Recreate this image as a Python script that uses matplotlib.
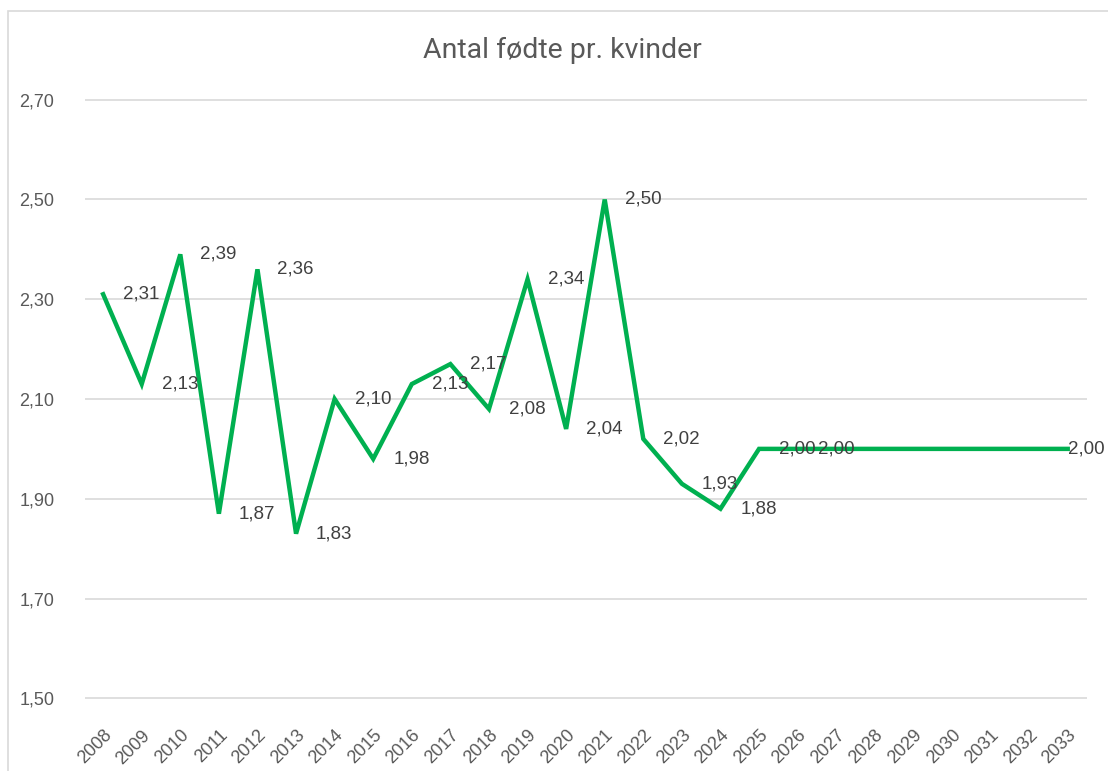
import matplotlib
matplotlib.use("Agg")
import matplotlib.pyplot as plt
from matplotlib.patches import Rectangle

years = [str(y) for y in range(2008, 2034)]
values = [2.31, 2.13, 2.39, 1.87, 2.36, 1.83, 2.10, 1.98, 2.13, 2.17, 2.08, 2.34, 2.04,
          2.50, 2.02, 1.93, 1.88, 2.00, 2.00, 2.00, 2.00, 2.00, 2.00, 2.00, 2.00, 2.00]
labelled_years = [str(y) for y in range(2008, 2027)] + ["2033"]
y_ticks = [1.50, 1.70, 1.90, 2.10, 2.30, 2.50, 2.70]
title = "Antal fødte pr. kvinder"

W, H = 1108, 771
fig = plt.figure(figsize=(W / 100, H / 100), dpi=100)
fig.patch.set_facecolor("white")
fig.patches.append(Rectangle((8 / W, -0.05), 1.2, 1 - 11 / H + 0.05, transform=fig.transFigure,
                             fill=False, edgecolor="#D9D9D9", lw=1.2))

ax = fig.add_axes([85 / W, 1 - 699 / H, (1087 - 85) / W, (699 - 99) / H])
x = list(range(len(years)))
ax.plot(x, values, color="#00B050", lw=3.2, solid_joinstyle="miter", zorder=3)

ax.set_ylim(1.4985, 2.7015)
ax.set_xlim(-0.47, len(years) - 0.5)
ax.set_yticks(y_ticks)
ax.set_yticklabels([f"{v:.2f}".replace(".", ",") for v in y_ticks],
                   fontsize=13, color="#595959", family=["Liberation Sans", "DejaVu Sans"])
ax.set_xticks(x)
ax.set_xticklabels(years, rotation=45, ha="right", va="top", rotation_mode="anchor",
                   fontsize=13, color="#595959", family=["Liberation Sans", "DejaVu Sans"])
ax.tick_params(axis="y", length=0, pad=22)
ax.tick_params(axis="x", length=0, pad=20)
ax.grid(axis="y", color="#D9D9D9", lw=1.2)
ax.set_axisbelow(True)
for s in ax.spines.values():
    s.set_visible(False)

for i, (yr, v) in enumerate(zip(years, values)):
    if yr not in labelled_years:
        continue
    dx = 0 if i == len(years) - 1 else 20
    ax.annotate(f"{v:.2f}".replace(".", ","), (i, v), xytext=(dx, 0), textcoords="offset pixels",
                ha="left", va="center", fontsize=13.5, color="#404040",
                family=["Liberation Sans", "DejaVu Sans"], zorder=4, annotation_clip=False)

fig.text(562 / W, 1 - 50 / H, title, ha="center", va="center", fontsize=20.5, color="#595959",
         family=["Liberation Sans Narrow", "Roboto", "DejaVu Sans"])

fig.savefig("out.png", dpi=100)
